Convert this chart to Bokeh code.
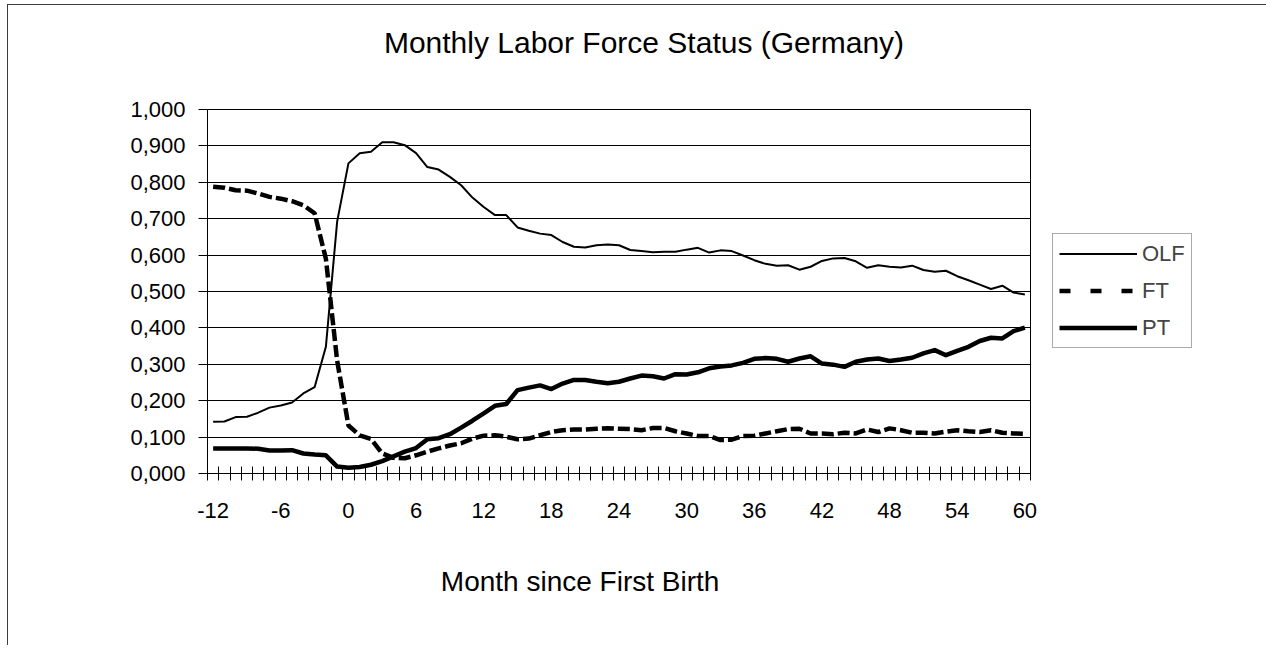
from bokeh.plotting import figure
from bokeh.models import (ColumnDataSource, Range1d, FixedTicker, CustomJSTickFormatter,
                          Legend, LegendItem, LinearAxis)
from bokeh.embed import file_html
from bokeh.resources import INLINE

# ---------------- data ----------------
months = list(range(-12, 61))

olf = [0.142, 0.143, 0.155, 0.156, 0.167, 0.181, 0.187, 0.195, 0.220, 0.237,
       0.348, 0.692, 0.852, 0.880, 0.884, 0.910, 0.910, 0.902, 0.880, 0.842,
       0.835, 0.815, 0.792, 0.758, 0.732, 0.710, 0.710, 0.676, 0.667, 0.659,
       0.655, 0.636, 0.623, 0.621, 0.627, 0.629, 0.627, 0.614, 0.611, 0.608,
       0.609, 0.609, 0.615, 0.620, 0.607, 0.613, 0.611, 0.599, 0.586, 0.576,
       0.571, 0.572, 0.560, 0.568, 0.584, 0.591, 0.592, 0.583, 0.565, 0.572,
       0.568, 0.566, 0.571, 0.559, 0.554, 0.557, 0.542, 0.531, 0.519, 0.507,
       0.516, 0.497, 0.492]

ft = [0.788, 0.785, 0.778, 0.777, 0.769, 0.760, 0.755, 0.748, 0.737, 0.715,
      0.590, 0.310, 0.132, 0.105, 0.095, 0.055, 0.043, 0.042, 0.050, 0.060,
      0.069, 0.077, 0.083, 0.096, 0.104, 0.105, 0.101, 0.094, 0.096, 0.105,
      0.114, 0.119, 0.121, 0.121, 0.123, 0.124, 0.123, 0.122, 0.119, 0.125,
      0.125, 0.116, 0.110, 0.103, 0.103, 0.092, 0.093, 0.103, 0.104, 0.110,
      0.116, 0.122, 0.123, 0.110, 0.110, 0.108, 0.112, 0.110, 0.121, 0.114,
      0.124, 0.119, 0.112, 0.112, 0.110, 0.115, 0.119, 0.116, 0.114, 0.119,
      0.112, 0.110, 0.109]

pt = [0.069, 0.069, 0.069, 0.069, 0.068, 0.063, 0.063, 0.064, 0.055, 0.052,
      0.050, 0.019, 0.016, 0.018, 0.024, 0.034, 0.047, 0.060, 0.070, 0.094,
      0.097, 0.108, 0.126, 0.145, 0.165, 0.186, 0.191, 0.229, 0.236, 0.242,
      0.232, 0.247, 0.257, 0.257, 0.252, 0.248, 0.252, 0.261, 0.269, 0.267,
      0.261, 0.273, 0.272, 0.278, 0.289, 0.294, 0.297, 0.304, 0.315, 0.317,
      0.315, 0.307, 0.316, 0.322, 0.302, 0.299, 0.293, 0.307, 0.313, 0.316,
      0.309, 0.313, 0.318, 0.330, 0.339, 0.325, 0.337, 0.348, 0.364, 0.373,
      0.371, 0.391, 0.401]

series_names = ["OLF", "FT", "PT"]
x_tick_values = [-12, -6, 0, 6, 12, 18, 24, 30, 36, 42, 48, 54, 60]
y_tick_values = [0.0, 0.1, 0.2, 0.3, 0.4, 0.5, 0.6, 0.7, 0.8, 0.9, 1.0]
title_text = "Monthly Labor Force Status (Germany)"
x_title_text = "Month since First Birth"

FONT = "Liberation Sans"
NBSP = "\u00a0"

# ---------------- figure ----------------
p = figure(width=1250, height=640, frame_width=823, frame_height=364,
           output_backend="svg", toolbar_location=None,
           x_range=Range1d(-12.5, 60.5), y_range=Range1d(0, 1),
           min_border_left=199, min_border_right=228,
           min_border_top=104, min_border_bottom=172)
p.styles = {"margin-left": "7px", "margin-top": "4px",
            "border-left": "1px solid #3c3c3c", "border-top": "1px solid #3c3c3c"}
p.background_fill_color = "white"
p.border_fill_color = "white"
p.outline_line_color = "black"
p.outline_line_width = 1

p.xgrid.visible = False
p.ygrid.ticker = FixedTicker(ticks=y_tick_values)
p.ygrid.grid_line_color = "black"
p.ygrid.grid_line_width = 1

# y axis
p.yaxis.ticker = FixedTicker(ticks=y_tick_values)
p.yaxis.formatter = CustomJSTickFormatter(code="return tick.toFixed(3).replace('.', ',');")
p.yaxis.axis_line_color = "black"
p.yaxis.major_tick_line_color = "black"
p.yaxis.major_tick_in = 0
p.yaxis.major_tick_out = 9
p.yaxis.minor_tick_line_color = None
p.yaxis.major_label_standoff = 13
p.yaxis.major_label_text_font = FONT
p.yaxis.major_label_text_font_size = "22px"
p.yaxis.major_label_text_color = "black"

# x axis
boundaries = [m - 0.5 for m in months] + [months[-1] + 0.5]
p.xaxis.ticker = FixedTicker(ticks=x_tick_values, minor_ticks=boundaries)
p.xaxis.formatter = CustomJSTickFormatter(code="return String(tick);")
p.xaxis.axis_line_color = "black"
p.xaxis.major_tick_line_color = None
p.xaxis.major_tick_in = 0
p.xaxis.major_tick_out = 0
p.xaxis.minor_tick_line_color = "black"
p.xaxis.minor_tick_in = 7
p.xaxis.minor_tick_out = 7
p.xaxis.major_label_standoff = 22
p.xaxis.major_label_text_font = FONT
p.xaxis.major_label_text_font_size = "22px"
p.xaxis.major_label_text_color = "black"
# axis title (trailing spaces shift it left, as in the reference)
p.xaxis.axis_label = x_title_text + NBSP * 10
p.xaxis.axis_label_text_font = FONT
p.xaxis.axis_label_text_font_size = "28px"
p.xaxis.axis_label_text_font_style = "normal"
p.xaxis.axis_label_text_color = "black"
p.xaxis.axis_label_standoff = 45

# chart title carried by an empty axis above the plot
title_axis = LinearAxis(ticker=FixedTicker(ticks=[]), axis_line_color=None,
                        major_tick_line_color=None, minor_tick_line_color=None,
                        major_tick_in=0, major_tick_out=0, minor_tick_in=0, minor_tick_out=0,
                        major_label_standoff=0, major_label_text_font_size="1px",
                        axis_label=NBSP * 6 + title_text, axis_label_standoff=51,
                        axis_label_text_font=FONT, axis_label_text_font_size="30px",
                        axis_label_text_font_style="normal", axis_label_text_color="black")
p.add_layout(title_axis, "above")

# ---------------- series ----------------
src = ColumnDataSource(dict(month=months, olf=olf, ft=ft, pt=pt))
p.line("month", "olf", source=src, line_color="black", line_width=2, line_join="round")
p.line("month", "ft", source=src, line_color="black", line_width=4.5, line_dash="12 4")
p.line("month", "pt", source=src, line_color="black", line_width=4.5, line_join="round")

# legend samples: off-range renderers used only for legend styling
off = dict(x=[-30, -29], y=[-5, -5])
d_olf = p.line(x=off["x"], y=off["y"], line_color="black", line_width=2)
d_ft = p.line(x=off["x"], y=off["y"], line_color="black", line_width=4.5, line_dash="11 20")
d_pt = p.line(x=off["x"], y=off["y"], line_color="black", line_width=4.5)

legend = Legend(items=[LegendItem(label=series_names[0], renderers=[d_olf]),
                       LegendItem(label=series_names[1], renderers=[d_ft]),
                       LegendItem(label=series_names[2], renderers=[d_pt])],
                location=(22, 125), glyph_width=78, glyph_height=27,
                label_height=27, spacing=10, padding=6, label_standoff=5,
                label_text_font=FONT, label_text_font_size="22px",
                border_line_color="#555555", border_line_width=1,
                background_fill_color="white", background_fill_alpha=1.0, margin=0)
p.add_layout(legend, "right")

open("out.html", "w").write(file_html(p, INLINE))
